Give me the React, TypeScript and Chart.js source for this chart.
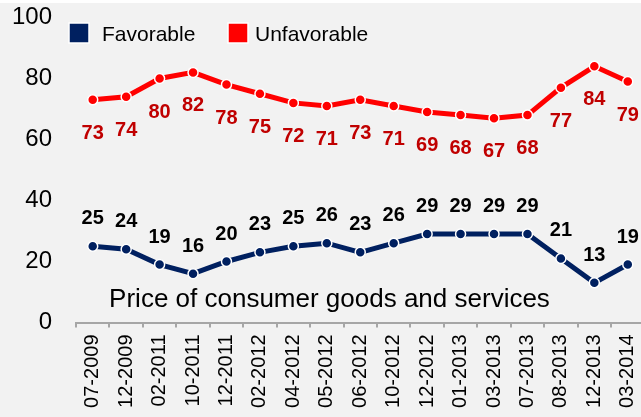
import React, { useEffect, useRef } from 'react';
import { Chart, registerables } from 'chart.js';

Chart.register(...registerables);

const categories = [
  '07-2009', '12-2009', '02-2011', '10-2011', '12-2011', '02-2012', '04-2012', '05-2012',
  '06-2012', '10-2012', '12-2012', '01-2013', '03-2013', '07-2013', '08-2013', '12-2013', '03-2014',
];
const favorable = [25, 24, 19, 16, 20, 23, 25, 26, 23, 26, 29, 29, 29, 29, 21, 13, 19];
const unfavorable = [73, 74, 80, 82, 78, 75, 72, 71, 73, 71, 69, 68, 67, 68, 77, 84, 79];
const yTicks = [0, 20, 40, 60, 80, 100];
const seriesNames = ['Favorable', 'Unfavorable'];
const annotationText = 'Price of consumer goods and services';

const FONT = '"Liberation Sans", Arial, Helvetica, sans-serif';
const W = 660;
const H = 417;
const PLOT_TOP = 17.5;
const PLOT_BOTTOM = 322.5;
const PLOT_LEFT = 76;
const PLOT_RIGHT = 644.5;
const NAVY = '#002060';
const RED = '#ff0000';
const LABEL_COLORS = ['#000000', '#c00000'];

const customPlugin = {
  id: 'customDraw',
  beforeDraw(chart: any) {
    const ctx = chart.ctx;
    ctx.save();
    ctx.fillStyle = '#f2f2f2';
    ctx.fillRect(0, 0, chart.width, chart.height);
    ctx.fillStyle = '#ffffff';
    ctx.fillRect(0, 0, chart.width, 3);
    ctx.restore();
  },
  afterDatasetsDraw(chart: any) {
    const ctx = chart.ctx;
    ctx.save();
    chart.data.datasets.forEach((ds: any, i: number) => {
      const meta = chart.getDatasetMeta(i);
      ctx.font = `bold 20px ${FONT}`;
      ctx.fillStyle = LABEL_COLORS[i];
      ctx.textAlign = 'center';
      ctx.textBaseline = 'alphabetic';
      meta.data.forEach((pt: any, j: number) => {
        const v = ds.data[j];
        const center = i === 0 ? pt.y - 29 : pt.y + 32;
        ctx.fillText(String(v), pt.x, center + 7);
      });
    });
    const xs = chart.scales.x;
    const ys = chart.scales.y;
    ctx.font = `26px ${FONT}`;
    ctx.fillStyle = '#000000';
    ctx.textAlign = 'center';
    ctx.textBaseline = 'alphabetic';
    ctx.fillText(annotationText, xs.getPixelForValue(7.08), ys.getPixelForValue(5.2));

    const colors = [NAVY, RED];
    const boxX = [69, 228];
    const textX = [102, 255];
    ctx.font = `21px ${FONT}`;
    ctx.textAlign = 'left';
    seriesNames.forEach((name, i) => {
      ctx.fillStyle = colors[i];
      ctx.fillRect(boxX[i], 23, 20, 20);
      ctx.strokeStyle = '#ffffff';
      ctx.lineWidth = 1.5;
      ctx.strokeRect(boxX[i], 23, 20, 20);
      ctx.fillStyle = '#000000';
      ctx.fillText(name, textX[i], 40.5);
    });
    ctx.restore();
  },
};

export default function App() {
  const ref = useRef<HTMLCanvasElement | null>(null);

  useEffect(() => {
    if (!ref.current) return;
    const lineDs = (label: string, data: number[], color: string) => ({
      label,
      data,
      borderColor: color,
      backgroundColor: color,
      borderWidth: 5,
      tension: 0,
      pointRadius: 5,
      pointBorderWidth: 1.5,
      pointBorderColor: '#ffffff',
      pointBackgroundColor: color,
      fill: false,
    });
    const chart = new Chart(ref.current, {
      type: 'line',
      data: {
        labels: categories,
        datasets: [
          lineDs(seriesNames[0], favorable, NAVY),
          lineDs(seriesNames[1], unfavorable, RED),
        ],
      },
      options: {
        responsive: false,
        maintainAspectRatio: false,
        animation: false,
        devicePixelRatio: 1,
        layout: {
          autoPadding: false,
          padding: { top: PLOT_TOP, right: W - PLOT_RIGHT, left: 0, bottom: 0 },
        },
        plugins: { legend: { display: false }, tooltip: { enabled: false } },
        scales: {
          x: {
            offset: true,
            grid: {
              offset: true,
              drawOnChartArea: false,
              drawTicks: true,
              tickLength: 5,
              color: '#a6a6a6',
              lineWidth: 2,
            },
            border: { display: true, color: '#a6a6a6', width: 2 },
            ticks: {
              autoSkip: false,
              maxRotation: 90,
              minRotation: 90,
              padding: 7,
              color: '#000000',
              font: { family: FONT, size: 20 },
            },
            afterFit: (s: any) => {
              s.height = H - PLOT_BOTTOM;
              s.paddingLeft = 0;
              s.paddingRight = 0;
              s.paddingTop = 0;
              s.paddingBottom = 0;
            },
          },
          y: {
            min: 0,
            max: 100,
            afterBuildTicks: (s: any) => {
              s.ticks = yTicks.map((v) => ({ value: v }));
            },
            grid: { display: false, drawTicks: false },
            border: { display: false },
            ticks: {
              padding: 24,
              color: '#000000',
              font: { family: FONT, size: 24 },
            },
            afterFit: (s: any) => {
              s.width = PLOT_LEFT;
              s.paddingTop = 0;
              s.paddingBottom = 0;
              s.paddingLeft = 0;
              s.paddingRight = 0;
            },
          },
        },
      },
      plugins: [customPlugin],
    } as any);
    return () => chart.destroy();
  }, []);

  return (
    <div
      style={{
        position: 'fixed',
        left: 0,
        top: 0,
        width: 641,
        height: 417,
        overflow: 'hidden',
        background: '#f2f2f2',
      }}
    >
      <canvas ref={ref} width={W} height={H} style={{ display: 'block', width: W, height: H }} />
    </div>
  );
}
